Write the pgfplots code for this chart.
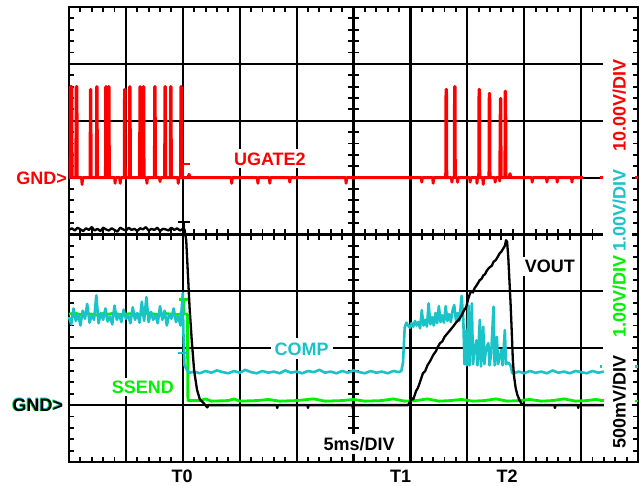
\documentclass[border=0pt]{standalone}
\usepackage{fontspec}
\setmainfont{Liberation Sans}
\usepackage{pgfplots}
\pgfplotsset{compat=1.18}
\definecolor{scred}{RGB}{255,0,0}
\definecolor{sccyan}{RGB}{25,195,200}
\definecolor{scgreen}{RGB}{0,240,0}
\newcommand\lbl{\fontsize{18}{21}\selectfont\bfseries}
\begin{document}
\begin{tikzpicture}
\begin{axis}[
 at={(69pt,23pt)}, anchor=south west,
 scale only axis, width=569pt, height=455pt,
 xmin=0, xmax=10, ymin=0, ymax=8,
 xtick={0,...,10}, ytick={0,...,8},
 xticklabels={}, yticklabels={},
 minor tick num=4,
 tick align=inside,
 major tick length=5pt, minor tick length=5pt,
 tick style={black, line width=1.9pt},
 grid=major,
 major grid style={black, line width=2.2pt},
 axis line style={black, line width=2.5pt},
 clip=false,
]
% centre-line graticule ticks
\pgfplotsinvokeforeach{0.2,0.4,...,9.9}{\draw[black, line width=1.9pt] (axis cs:#1,3.9) -- (axis cs:#1,4.1);}
\pgfplotsinvokeforeach{0.2,0.4,...,7.9}{\draw[black, line width=1.9pt] (axis cs:4.91,#1) -- (axis cs:5.09,#1);}
% right label strip
\fill[white] (axis cs:9.385,0.1) rectangle (axis cs:9.9,7.9);

% SSEND (green)
\addplot[scgreen, line width=2.8pt, line join=round, mark=none] coordinates {
(0,2.60)(0.1,2.62)(0.2,2.59)(0.3,2.61)(0.4,2.60)(0.5,2.58)(0.6,2.61)(0.7,2.60)(0.8,2.62)(0.9,2.59)(1.0,2.60)(1.1,2.61)(1.2,2.59)(1.3,2.60)(1.4,2.62)(1.5,2.60)(1.6,2.59)(1.7,2.61)(1.8,2.60)(1.9,2.59)(2.0,2.61)(2.08,2.60)
(2.09,1.08)(2.3,1.08)(2.4,1.11)(2.5,1.07)(2.8,1.08)(2.9,1.11)(3.0,1.07)(3.3,1.08)(3.5,1.10)(3.7,1.07)(4.0,1.08)(4.3,1.11)(4.5,1.07)(4.8,1.08)(5.0,1.10)(5.2,1.07)(5.5,1.08)(5.7,1.11)(5.9,1.07)(6.1,1.08)(6.3,1.11)(6.5,1.07)(6.7,1.08)(6.9,1.10)(7.1,1.07)(7.3,1.08)(7.5,1.11)(7.7,1.07)(7.9,1.08)(8.1,1.10)(8.3,1.07)(8.5,1.08)(8.7,1.11)(8.9,1.07)(9.1,1.08)(9.25,1.10)(9.4,1.08)
};
\addplot[scgreen, line width=2.6pt, mark=none] coordinates {(1.93,2.86)(2.10,2.86)};
\addplot[scgreen, line width=2.6pt, mark=none] coordinates {(2.01,2.86)(2.01,2.60)};

% COMP (cyan)
\addplot[sccyan, line width=2.6pt, line join=round, mark=none] coordinates {
(0,2.55)(0.04,2.42)(0.08,2.70)(0.12,2.48)(0.16,2.60)(0.2,2.40)(0.24,2.66)(0.28,2.52)(0.32,2.78)(0.36,2.45)(0.4,2.58)(0.44,2.50)(0.48,2.93)(0.52,2.44)(0.56,2.62)(0.6,2.50)(0.64,2.70)(0.68,2.47)(0.72,2.56)(0.76,2.42)(0.8,2.75)(0.84,2.50)(0.88,2.60)(0.92,2.46)(0.96,2.68)(1.0,2.52)(1.04,2.58)(1.08,2.44)(1.12,2.72)(1.16,2.50)(1.2,2.62)(1.24,2.45)(1.28,2.82)(1.32,2.48)(1.36,2.90)(1.4,2.46)(1.44,2.64)(1.48,2.50)(1.52,2.58)(1.56,2.44)(1.6,2.74)(1.64,2.50)(1.68,2.66)(1.72,2.40)(1.76,2.60)(1.8,2.52)(1.84,2.70)(1.88,2.46)(1.92,2.56)(1.96,2.40)(2.0,2.97)
(2.01,2.30)(2.03,1.70)(2.07,1.62)(2.12,1.57)
(2.2,1.59)(2.3,1.56)(2.4,1.60)(2.5,1.57)(2.6,1.61)(2.7,1.58)(2.8,1.56)(2.9,1.60)(3.0,1.57)(3.1,1.62)(3.2,1.58)(3.3,1.56)(3.4,1.60)(3.5,1.57)(3.6,1.59)(3.7,1.56)(3.8,1.61)(3.9,1.57)(4.0,1.59)(4.1,1.56)(4.2,1.60)(4.3,1.58)(4.4,1.62)(4.5,1.57)(4.6,1.59)(4.7,1.56)(4.8,1.60)(4.9,1.57)(5.0,1.61)(5.1,1.58)(5.2,1.56)(5.3,1.60)(5.4,1.57)(5.5,1.59)(5.6,1.56)(5.7,1.60)(5.8,1.58)
(5.84,1.60)(5.87,1.75)(5.90,2.37)(5.93,2.45)(5.96,2.40)(5.99,2.36)(6.02,2.44)(6.05,2.38)(6.08,2.48)(6.11,2.40)(6.14,2.46)(6.17,2.35)(6.20,2.67)(6.23,2.40)(6.26,2.50)(6.29,2.38)(6.32,2.79)(6.35,2.42)(6.38,2.55)(6.41,2.40)(6.44,2.62)(6.47,2.44)(6.50,2.74)(6.53,2.46)(6.56,2.58)(6.59,2.45)(6.62,2.74)(6.65,2.48)(6.68,2.60)(6.71,2.46)(6.74,2.66)(6.77,2.76)(6.80,2.50)(6.83,2.62)(6.86,2.48)(6.90,2.92)(6.93,2.50)
(6.95,1.72)(6.97,2.30)(6.99,1.70)(7.02,2.75)(7.04,1.70)(7.08,2.79)(7.10,1.72)(7.13,2.00)(7.16,2.14)(7.18,1.70)(7.22,2.50)(7.24,1.68)(7.28,2.38)(7.30,1.72)(7.33,2.00)(7.37,2.09)(7.39,1.70)(7.42,1.90)(7.46,2.73)(7.48,1.70)(7.52,2.20)(7.54,1.72)(7.57,1.85)(7.60,1.97)(7.62,1.70)(7.66,2.32)(7.68,1.72)(7.72,1.75)(7.76,1.70)(7.79,1.56)
(7.85,1.57)(7.9,1.59)(8.0,1.56)(8.1,1.60)(8.2,1.57)(8.3,1.59)(8.4,1.56)(8.5,1.61)(8.6,1.57)(8.7,1.59)(8.8,1.56)(8.9,1.60)(9.0,1.58)(9.1,1.56)(9.2,1.60)(9.3,1.57)(9.4,1.59)
};
\addplot[sccyan, line width=2.6pt, mark=none] coordinates {(1.92,1.92)(2.09,1.92)};

% VOUT (black)
\addplot[black, line width=2.3pt, line join=round, mark=none] coordinates {
(0,4.08)(0.05,4.11)(0.1,4.07)(0.15,4.12)(0.2,4.09)(0.25,4.06)(0.3,4.11)(0.35,4.08)(0.4,4.13)(0.45,4.07)(0.5,4.10)(0.55,4.06)(0.6,4.12)(0.65,4.09)(0.7,4.07)(0.75,4.11)(0.8,4.08)(0.85,4.05)(0.9,4.12)(0.95,4.09)(1.0,4.07)(1.05,4.12)(1.1,4.08)(1.15,4.10)(1.2,4.06)(1.25,4.11)(1.3,4.09)(1.35,4.13)(1.4,4.07)(1.45,4.10)(1.5,4.08)(1.55,4.12)(1.6,4.06)(1.65,4.10)(1.7,4.09)(1.75,4.07)(1.8,4.12)(1.85,4.08)(1.9,4.11)(1.95,4.07)(2.0,4.10)(2.03,4.09)
(2.06,3.90)(2.09,3.30)(2.12,2.70)(2.16,2.10)(2.20,1.60)(2.25,1.27)(2.30,1.10)(2.37,1.03)(2.43,0.96)(2.45,1.00)
(3.65,1.00)(3.66,0.95)(3.67,1.00)(4.19,1.00)(4.20,0.95)(4.21,1.00)(4.98,1.00)(4.99,0.94)(5.00,1.00)(5.96,1.00)
(6.00,1.07)(6.03,1.12)(6.05,1.10)(6.10,1.25)(6.13,1.30)(6.16,1.38)(6.20,1.50)(6.22,1.56)(6.26,1.60)(6.30,1.70)(6.35,1.78)(6.40,1.88)(6.45,1.95)(6.48,2.02)(6.52,2.09)(6.56,2.12)(6.60,2.20)(6.65,2.26)(6.70,2.32)(6.75,2.38)(6.80,2.45)(6.85,2.50)(6.90,2.58)(6.95,2.68)(6.98,2.72)(7.00,2.80)(7.02,2.88)(7.05,2.97)(7.08,3.00)(7.10,2.98)(7.13,3.06)(7.16,3.10)(7.19,3.15)(7.22,3.20)(7.25,3.22)(7.28,3.28)(7.31,3.30)(7.34,3.36)(7.37,3.40)(7.40,3.43)(7.43,3.45)(7.46,3.52)(7.50,3.55)(7.53,3.60)(7.57,3.67)(7.60,3.70)(7.63,3.75)(7.66,3.80)(7.68,3.90)(7.70,3.87)
(7.72,3.60)(7.74,3.20)(7.76,2.80)(7.78,2.32)(7.80,1.80)(7.82,1.52)(7.85,1.30)(7.88,1.18)(7.92,1.08)(7.96,1.02)(8.00,1.00)
(8.53,1.00)(8.54,0.95)(8.55,1.00)(8.94,1.00)(8.95,0.95)(8.96,1.00)(9.40,1.00)
};
\addplot[black, line width=2.3pt, mark=none] coordinates {(1.92,4.22)(2.13,4.22)};
\addplot[black, line width=2.3pt, mark=none] coordinates {(2.02,4.22)(2.02,4.02)};

% UGATE2 (red)
\addplot[scred, line width=2.9pt, line join=round, mark=none] coordinates {
(0,5.0)(0.02,5.0)(0.025,6.6)(0.05,6.6)(0.055,5.0)(0.12,5.0)(0.125,6.6)(0.14,6.6)(0.145,5.0)(0.22,5.0)(0.23,4.88)(0.24,5.0)
(0.37,5.0)(0.375,6.55)(0.385,6.55)(0.39,5.0)(0.48,5.0)(0.485,6.6)(0.495,6.6)(0.5,5.0)(0.64,5.0)(0.645,6.6)(0.655,6.6)(0.66,5.0)
(0.69,5.0)(0.695,6.6)(0.705,6.6)(0.71,5.0)(0.8,5.0)(0.81,4.9)(0.82,5.0)(0.89,5.0)(0.9,4.9)(0.91,5.0)
(0.97,5.0)(0.975,6.55)(0.985,6.55)(0.99,5.0)(1.06,5.0)(1.065,6.6)(1.075,6.6)(1.08,5.0)(1.24,5.0)(1.245,6.6)(1.255,6.6)(1.26,5.0)
(1.30,5.0)(1.305,6.6)(1.315,6.6)(1.32,5.0)(1.36,5.0)(1.37,4.9)(1.38,5.0)(1.50,5.0)(1.505,6.6)(1.515,6.6)(1.52,5.0)
(1.59,5.0)(1.6,4.93)(1.61,5.0)(1.68,5.0)(1.685,6.6)(1.695,6.6)(1.70,5.0)(1.78,5.0)(1.785,6.6)(1.795,6.6)(1.8,5.0)
(1.91,5.0)(1.92,4.9)(1.93,5.0)(1.96,5.0)(1.965,6.6)(1.975,6.6)(1.98,5.0)(2.09,5.0)(2.11,5.06)(2.13,5.0)
(2.85,5.0)(2.86,4.9)(2.87,5.0)(3.31,5.0)(3.32,4.9)(3.33,5.0)(3.52,5.0)(3.53,4.9)(3.54,5.0)(3.87,5.0)(3.88,4.92)(3.89,5.0)
(4.86,5.0)(4.87,4.9)(4.88,5.0)(6.19,5.0)(6.2,4.92)(6.21,5.0)(6.39,5.0)(6.4,4.9)(6.41,5.0)
(6.62,5.0)(6.625,6.55)(6.635,6.55)(6.64,5.0)(6.72,5.0)(6.73,4.92)(6.74,5.0)(6.77,5.0)(6.775,6.6)(6.785,6.6)(6.79,5.0)
(6.82,5.0)(6.83,4.92)(6.84,5.0)(7.04,5.0)(7.05,4.92)(7.06,5.0)(7.165,5.0)(7.17,4.9)(7.18,5.0)
(7.2,5.0)(7.205,6.55)(7.215,6.55)(7.22,5.0)(7.27,5.0)(7.28,4.88)(7.29,5.0)(7.38,5.0)(7.385,6.48)(7.395,6.48)(7.4,5.0)
(7.48,5.0)(7.49,4.92)(7.5,5.0)(7.56,5.0)(7.57,4.94)(7.58,6.39)(7.59,6.39)(7.595,5.0)(7.66,5.0)(7.665,6.52)(7.675,6.52)(7.68,5.0)
(7.73,5.0)(7.75,5.07)(7.77,5.0)(8.13,5.0)(8.14,4.92)(8.15,5.0)(8.39,5.0)(8.4,4.92)(8.41,5.0)(8.57,5.0)(8.58,4.92)(8.59,5.0)
(8.83,5.0)(8.84,4.92)(8.85,5.0)(9.03,5.0)
};
\addplot[scred, line width=2.6pt, mark=none] coordinates {(1.99,5.0)(1.99,5.24)(2.12,5.24)};

% right-edge channel markers
\addplot[scred, line width=2.6pt, mark=none] coordinates {(9.33,5.0)(9.39,5.0)};
\addplot[scred, line width=2.6pt, mark=none] coordinates {(9.94,5.0)(10.0,5.0)};
\addplot[sccyan, line width=2.6pt, mark=none] coordinates {(9.33,1.68)(9.37,1.68)};
\addplot[sccyan, line width=2.6pt, mark=none] coordinates {(9.94,1.68)(10.0,1.68)};
\addplot[scgreen, line width=2.6pt, mark=none] coordinates {(9.33,1.07)(9.39,1.07)};
\addplot[scgreen, line width=2.6pt, mark=none] coordinates {(9.94,1.07)(10.0,1.07)};

% labels
\node[text=scred, fill=white, inner sep=3pt, font=\lbl] at (axis cs:3.53,5.33) {UGATE2};
\node[text=scgreen, fill=white, inner sep=3pt, font=\lbl] at (axis cs:1.30,1.32) {SSEND};
\node[text=sccyan, fill=white, inner sep=4pt, font=\lbl] at (axis cs:4.09,1.99) {COMP};
\node[text=black, fill=white, inner sep=3pt, font=\lbl] at (axis cs:8.45,3.44) {VOUT};
\node[text=black, fill=white, inner sep=3pt, font=\lbl] at (axis cs:5.10,0.32) {5ms/DIV};

\node[rotate=90, text=scred, font=\lbl] at (axis cs:9.67,6.27) {10.00V/DIV};
\node[rotate=90, text=sccyan, font=\lbl] at (axis cs:9.67,4.42) {1.00V/DIV};
\node[rotate=90, text=scgreen, font=\lbl] at (axis cs:9.67,2.91) {1.00V/DIV};
\node[rotate=90, text=black, font=\lbl] at (axis cs:9.67,1.05) {500mV/DIV};

\node[font=\lbl] at (axis cs:1.99,-0.245) {T0};
\node[font=\lbl] at (axis cs:5.83,-0.245) {T1};
\node[font=\lbl] at (axis cs:7.70,-0.245) {T2};

\node[anchor=east, text=scred, font=\lbl, inner sep=0pt] at (axis cs:-0.035,4.99) {GND>};
\node[anchor=east, text=scgreen, font=\lbl, inner sep=0pt] at (axis cs:-0.118,1.0) {GND>};
\node[anchor=east, text=sccyan, font=\lbl, inner sep=0pt] at (axis cs:-0.11,1.012) {GND>};
\node[anchor=east, text=black, font=\lbl, inner sep=0pt] at (axis cs:-0.1,1.0) {GND>};
\end{axis}
\pgfresetboundingbox
\path[use as bounding box] (0,0) rectangle (644pt,485pt);
\end{tikzpicture}
\end{document}
